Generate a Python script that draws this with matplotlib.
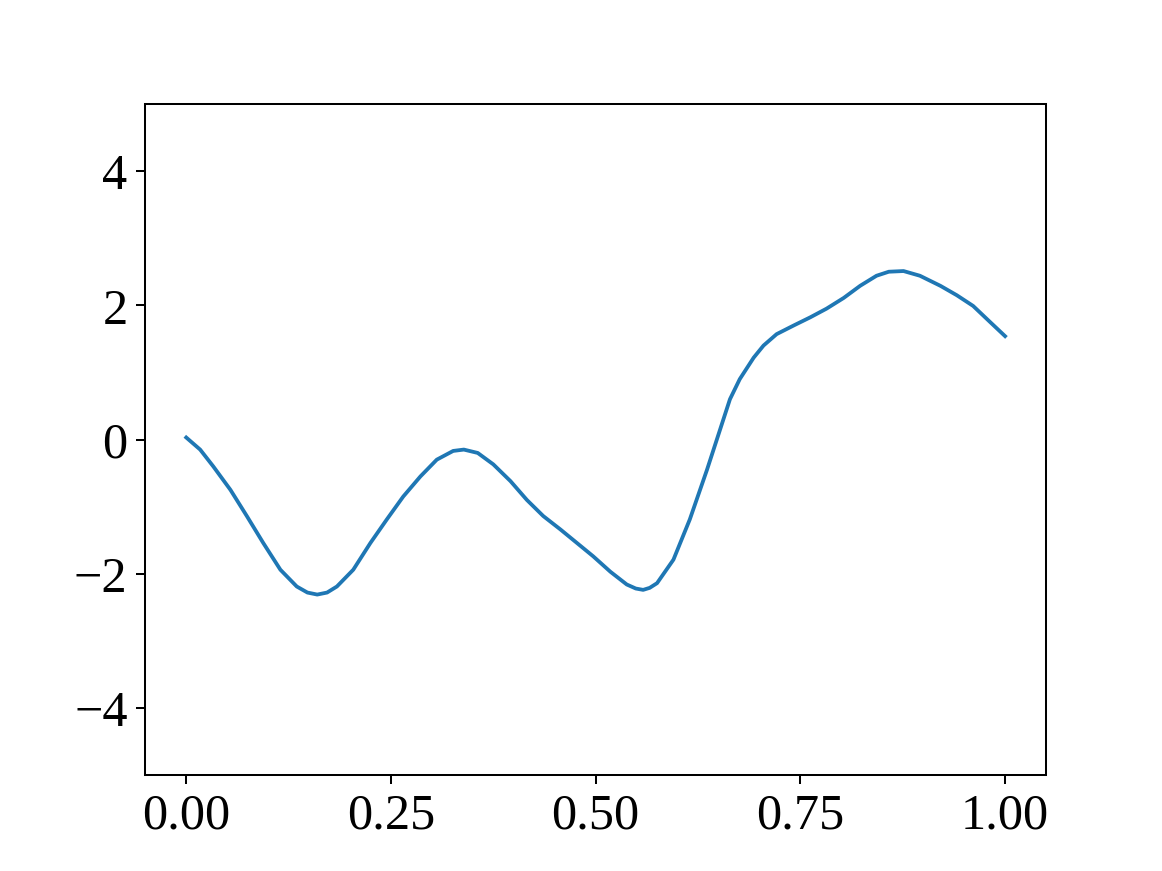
import matplotlib
matplotlib.use("Agg")
import matplotlib.pyplot as plt

plt.rcParams['font.family'] = ['Liberation Serif', 'DejaVu Serif']

# curve points
xs = [0.000, 0.017, 0.033, 0.054, 0.074, 0.094, 0.115, 0.135, 0.148, 0.160,
      0.172, 0.184, 0.204, 0.225, 0.245, 0.265, 0.286, 0.306, 0.326, 0.339,
      0.356, 0.375, 0.396, 0.416, 0.436, 0.457, 0.477, 0.497, 0.518, 0.538,
      0.549, 0.558, 0.566, 0.575, 0.595, 0.615, 0.636, 0.652, 0.664, 0.676,
      0.693, 0.705, 0.721, 0.742, 0.762, 0.782, 0.803, 0.823, 0.843, 0.858,
      0.876, 0.896, 0.921, 0.941, 0.961, 0.980, 1.000]
ys = [0.03, -0.15, -0.40, -0.75, -1.14, -1.54, -1.94, -2.19, -2.28, -2.31,
      -2.28, -2.19, -1.94, -1.54, -1.19, -0.85, -0.55, -0.30, -0.17, -0.15,
      -0.20, -0.37, -0.62, -0.90, -1.14, -1.34, -1.54, -1.74, -1.97, -2.16,
      -2.22, -2.24, -2.21, -2.14, -1.79, -1.19, -0.45, 0.15, 0.60, 0.90,
      1.22, 1.40, 1.57, 1.70, 1.82, 1.95, 2.11, 2.29, 2.44, 2.50,
      2.51, 2.44, 2.29, 2.15, 1.99, 1.77, 1.54]

xticks = [0.00, 0.25, 0.50, 0.75, 1.00]

fig, ax = plt.subplots(figsize=(6.4, 4.8), dpi=181.6)
ax.plot(xs, ys, color='#1f77b4', lw=1.5)
ax.set_ylim(-5, 5)
ax.set_xticks(xticks)
ax.set_xticklabels(["%.2f" % t for t in xticks])
ax.tick_params(labelsize=20)

fig.savefig("out.png", dpi=181.6)
